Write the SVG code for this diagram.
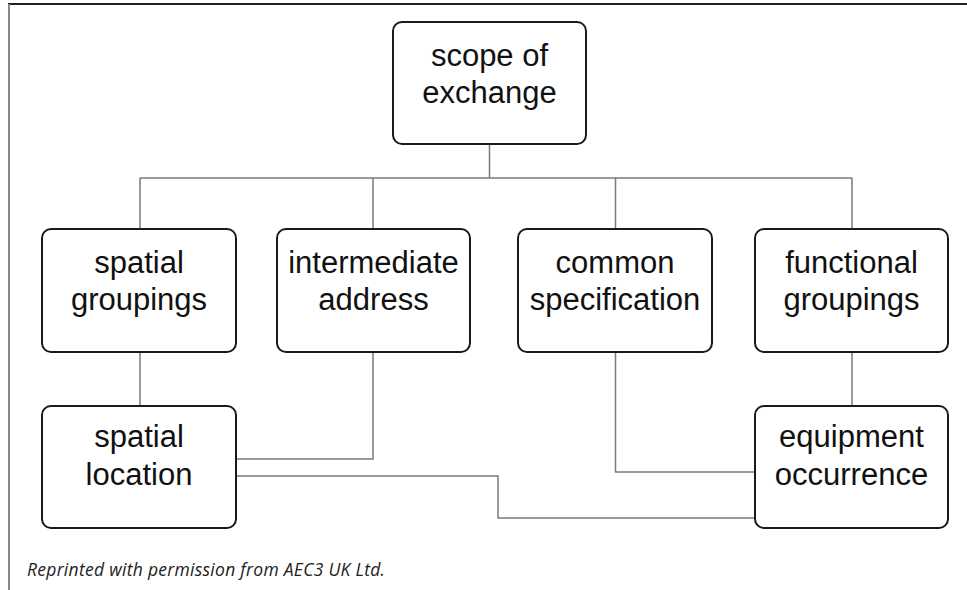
<svg xmlns="http://www.w3.org/2000/svg" width="967" height="590" viewBox="0 0 967 590">
<style>
.box{fill:#fff;stroke:#1a1a1a;stroke-width:2}
.lbl{font-family:"Liberation Sans",Arial,sans-serif;font-size:31px;fill:#111;text-anchor:middle}
.conn{fill:none;stroke:#7a7a7a;stroke-width:1.5}
.note{font-family:"Open Sans","Noto Sans",sans-serif;font-style:italic;font-size:17.5px;fill:#222}
</style>
<rect width="967" height="590" fill="#fff"/>
<g id="frame">
<line x1="8" y1="4" x2="967" y2="4" stroke="#222" stroke-width="1.8"/>
<line x1="9" y1="4" x2="9" y2="590" stroke="#888" stroke-width="2"/>
</g>
<g id="connectors">
<path class="conn" d="M489.5 144V178M140 178H852M140 178V229M373 178V229M615.5 178V229M852 178V229"/>
<path class="conn" d="M140 352V406"/>
<path class="conn" d="M852 352V406"/>
<path class="conn" d="M373 352V459H236"/>
<path class="conn" d="M615.5 352V472H755"/>
<path class="conn" d="M236 476H498V518H755"/>
</g>
<g id="scope">
<rect class="box" x="393" y="22" width="193" height="122" rx="9"/>
<text class="lbl" x="489.5" y="66">scope of</text>
<text class="lbl" x="489.5" y="103">exchange</text>
</g>
<g id="spatial-groupings">
<rect class="box" x="42" y="229" width="194" height="123" rx="9"/>
<text class="lbl" x="139" y="273">spatial</text>
<text class="lbl" x="139" y="310">groupings</text>
</g>
<g id="intermediate-address">
<rect class="box" x="277" y="229" width="193" height="123" rx="9"/>
<text class="lbl" x="373.5" y="273">intermediate</text>
<text class="lbl" x="373.5" y="310">address</text>
</g>
<g id="common-specification">
<rect class="box" x="518" y="229" width="194" height="123" rx="9"/>
<text class="lbl" x="615" y="273">common</text>
<text class="lbl" x="615" y="310">specification</text>
</g>
<g id="functional-groupings">
<rect class="box" x="755" y="229" width="193" height="123" rx="9"/>
<text class="lbl" x="851.5" y="273">functional</text>
<text class="lbl" x="851.5" y="310">groupings</text>
</g>
<g id="spatial-location">
<rect class="box" x="42" y="406" width="194" height="122" rx="9"/>
<text class="lbl" x="139" y="447">spatial</text>
<text class="lbl" x="139" y="485">location</text>
</g>
<g id="equipment-occurrence">
<rect class="box" x="755" y="406" width="193" height="122" rx="9"/>
<text class="lbl" x="851.5" y="447">equipment</text>
<text class="lbl" x="851.5" y="485">occurrence</text>
</g>
<text class="note" x="27" y="576" textLength="358" lengthAdjust="spacing">Reprinted with permission from AEC3 UK Ltd.</text>
</svg>
